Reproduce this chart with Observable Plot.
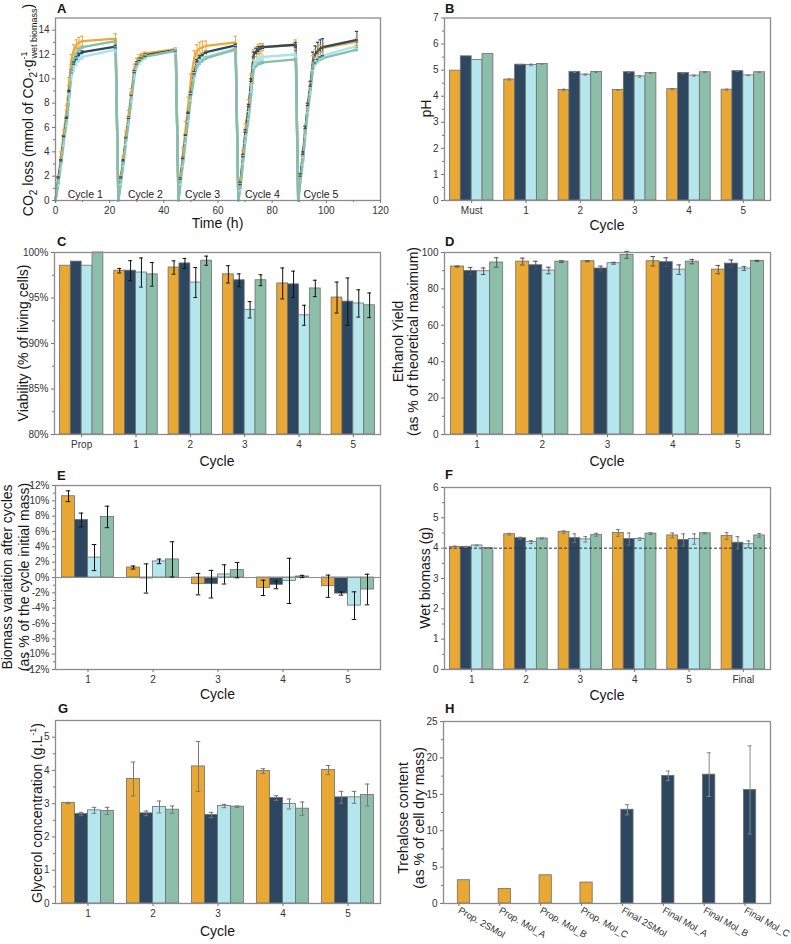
<!DOCTYPE html>
<html><head><meta charset="utf-8">
<script src="https://cdn.jsdelivr.net/npm/d3@7"></script>
<script src="https://cdn.jsdelivr.net/npm/@observablehq/plot@0.6"></script>
<style>
body{margin:0;background:#fff;}
#fig{position:relative;width:791px;height:944px;overflow:hidden;background:#fff;}
#fig svg{position:absolute;overflow:visible;}
</style></head><body><div id="fig"></div>
<script>
const FONT = '"Liberation Sans", Arial, Helvetica, sans-serif';
const seriesNames = ["2SMol", "Mol_A", "Mol_B", "Mol_C"];
const barColors = ["#E9A733", "#2D4760", "#B4E6EE", "#8DBEAA"];
const lineColors = ["#EBA93A", "#2E4A63", "#A9E2EA", "#86BFA9"];

// ---- Panel A : CO2 loss kinetics ----
const co2Time = [
  0,1.1,2.1,3.1,4.2,5.1,5.9,6.8,7.8,8.7,9.9,22.2,
  23.2,24.2,25.1,26.1,27.1,28.1,29.2,30.1,31.1,32,33.2,44.4,
  45.4,46.2,47.1,48.1,49.1,50,51.3,52.3,53.3,54.3,55.6,66.5,
  67.5,68.3,69.3,70.2,71.4,72.3,73.2,74.2,75,75.8,76.6,88.7,
  89.6,90.5,91.4,92.3,93.2,94.2,95.1,96,96.9,97.8,98.7,111.3];
const co2S2SMol = [
  0,1.9,3.8,5.6,7.6,9.8,11.6,12.4,12.8,13.0,13.1,13.3,
  0,2.0,3.6,5.5,7.2,9.0,11.0,11.5,11.8,12.0,12.1,12.45,
  0,2.0,3.9,6.0,8.0,9.9,11.8,12.3,12.5,12.6,12.7,13.0,
  0,1.6,3.9,6.0,8.0,10.0,12.0,12.2,12.4,12.5,12.6,12.8,
  0,2.0,3.5,5.9,7.8,9.4,11.6,12.1,12.3,12.45,12.55,13.05];
const co2SMolA = [
  0,1.9,3.3,5.3,6.8,9.0,10.6,11.3,11.7,12.0,12.2,12.65,
  0,1.9,3.3,5.2,6.8,8.7,10.6,11.3,11.6,11.8,11.95,12.35,
  0,1.8,3.5,5.4,7.2,8.8,10.5,11.5,11.8,12.0,12.2,12.75,
  0,1.4,3.7,5.7,7.8,9.9,12.0,12.3,12.45,12.55,12.6,12.8,
  0,2.1,3.9,6.0,7.9,9.6,11.5,12.0,12.3,12.5,12.6,13.2];
const co2SMolB = [
  0,1.4,2.9,4.8,6.4,8.4,10.2,10.9,11.4,11.6,11.8,12.4,
  0,1.5,3.0,4.9,6.5,8.4,10.3,11.0,11.4,11.6,11.8,12.3,
  0,1.5,3.0,5.0,6.8,8.5,10.2,11.1,11.4,11.6,11.8,12.5,
  0,1.0,3.2,5.0,7.0,9.2,11.2,11.5,11.6,11.7,11.8,12.0,
  0,1.8,3.2,5.5,7.5,9.0,11.0,11.4,11.6,11.8,11.9,12.7];
const co2SMolC = [
  0,1.5,3.1,5.0,6.6,8.7,10.6,11.6,12.1,12.4,12.6,13.1,
  0,1.6,3.1,5.0,6.6,8.5,10.5,11.2,11.5,11.7,11.85,12.3,
  0,1.6,3.1,5.0,6.8,8.5,10.3,11.0,11.3,11.5,11.7,12.4,
  0,1.1,3.3,5.1,6.9,8.8,10.8,11.1,11.25,11.3,11.35,11.6,
  0,1.7,3.3,5.6,7.4,9.2,10.9,11.3,11.5,11.6,11.7,12.4];
const co2E2SMol = [
  0,0.1,0.2,0.2,0.2,0.3,0.4,0.4,0.4,0.4,0.4,0.4,
  0,0.1,0.1,0.2,0.2,0.2,0.2,0.2,0.2,0.1,0.1,0.1,
  0,0.2,0.4,0.5,0.5,0.5,0.5,0.5,0.5,0.5,0.4,0.5,
  0,0.2,0.2,0.3,0.3,0.4,0.4,0.4,0.4,0.4,0.3,0.4,
  0,0.1,0.2,0.2,0.2,0.3,0.3,0.3,0.3,0.3,0.3,0.3];
const co2EMolA = [
  0,0.05,0.05,0.05,0.05,0.05,0.1,0.1,0.1,0.1,0.1,0.1,
  0,0.05,0.05,0.05,0.05,0.05,0.1,0.1,0.1,0.1,0.1,0.1,
  0,0.05,0.05,0.05,0.05,0.1,0.1,0.1,0.1,0.1,0.1,0.1,
  0,0.1,0.1,0.1,0.1,0.1,0.2,0.2,0.2,0.1,0.1,0.2,
  0,0.1,0.1,0.1,0.1,0.2,0.7,0.7,0.7,0.7,0.7,0.7];
const co2EMolB = [
  0,0.2,0.3,0.3,0.3,0.3,0.3,0.3,0.3,0.2,0.2,0.2,
  0,0.2,0.2,0.3,0.3,0.3,0.3,0.2,0.2,0.2,0.2,0.2,
  0,0.2,0.2,0.3,0.3,0.3,0.3,0.2,0.2,0.2,0.2,0.2,
  0,0.2,0.2,0.3,0.3,0.3,0.3,0.3,0.2,0.2,0.2,0.2,
  0,0.2,0.3,0.3,0.3,0.3,0.3,0.3,0.3,0.2,0.2,0.2];
const co2EMolC = [
  0,0.1,0.1,0.1,0.1,0.1,0.1,0.1,0.1,0.1,0.1,0.1,
  0,0.1,0.1,0.1,0.1,0.1,0.1,0.1,0.1,0.1,0.1,0.1,
  0,0.1,0.1,0.1,0.1,0.1,0.1,0.1,0.1,0.1,0.1,0.1,
  0,0.1,0.1,0.1,0.1,0.1,0.1,0.1,0.1,0.1,0.1,0.1,
  0,0.1,0.1,0.1,0.1,0.1,0.1,0.1,0.1,0.1,0.1,0.1];
const cycleLabelText = ["Cycle 1", "Cycle 2", "Cycle 3", "Cycle 4", "Cycle 5"];
const cycleLabelTime = [11, 33.2, 54.3, 76.4, 98];
const co2XTicks = [0, 20, 40, 60, 80, 100, 120];
const co2XMinor = [10, 30, 50, 70, 90, 110];
const co2YTicks = [0, 2, 4, 6, 8, 10, 12, 14];
const co2YMinor = [1, 3, 5, 7, 9, 11, 13];

// ---- Panel B : pH ----
const phCycles = ["Must", "1", "2", "3", "4", "5"];
const ph2SMol = [4.98, 4.64, 4.24, 4.24, 4.27, 4.25];
const phMolA  = [5.53, 5.21, 4.93, 4.92, 4.89, 4.96];
const phMolB  = [5.39, 5.20, 4.83, 4.76, 4.79, 4.80];
const phMolC  = [5.62, 5.24, 4.93, 4.89, 4.92, 4.92];
const phErr2SMol = [0, 0.02, 0.03, 0.01, 0.02, 0.02];
const phErrMolA  = [0, 0.01, 0.02, 0.02, 0.02, 0.01];
const phErrMolB  = [0, 0.03, 0.02, 0.03, 0.02, 0.01];
const phErrMolC  = [0, 0.01, 0.02, 0.02, 0.02, 0.01];
const phTicks = [0, 1, 2, 3, 4, 5, 6, 7];
const phMinor = [0.5, 1.5, 2.5, 3.5, 4.5, 5.5, 6.5];

// ---- Panel C : viability ----
const viaCycles = ["Prop", "1", "2", "3", "4", "5"];
const via2SMol = [98.55, 98.0, 98.35, 97.6, 96.6, 95.05];
const viaMolA  = [99.0, 98.0, 98.8, 96.95, 96.5, 94.6];
const viaMolB  = [98.55, 97.8, 96.7, 93.7, 93.1, 94.4];
const viaMolC  = [100, 97.6, 99.1, 96.95, 96.05, 94.2];
const viaErr2SMol = [0, 0.25, 0.73, 0.95, 1.7, 1.7];
const viaErrMolA  = [0, 1.1, 0.55, 0.7, 1.45, 2.6];
const viaErrMolB  = [0, 1.6, 1.65, 0.9, 1.1, 1.5];
const viaErrMolC  = [0, 1.3, 0.5, 0.6, 0.9, 1.35];
const viaTicks = [80, 85, 90, 95, 100];
const viaMinor = [82.5, 87.5, 92.5, 97.5];

// ---- Panel D : ethanol yield ----
const ethCycles = ["1", "2", "3", "4", "5"];
const eth2SMol = [92.3, 95.0, 95.2, 95.2, 90.6];
const ethMolA  = [89.9, 93.0, 91.2, 94.7, 93.9];
const ethMolB  = [89.7, 90.1, 94.1, 90.6, 91.2];
const ethMolC  = [94.5, 95.0, 98.7, 95.0, 95.4];
const ethErr2SMol = [0.3, 1.9, 0.3, 2.6, 2.3];
const ethErrMolA  = [1.9, 2.2, 1.3, 2.4, 2.0];
const ethErrMolB  = [1.8, 1.8, 0.5, 2.6, 1.0];
const ethErrMolC  = [2.6, 0.5, 1.9, 1.2, 0.3];
const ethTicks = [0, 20, 40, 60, 80, 100];
const ethMinor = [10, 30, 50, 70, 90];

// ---- Panel E : biomass variation ----
const bvCycles = ["1", "2", "3", "4", "5"];
const bv2SMol = [10.6, 1.3, -0.87, -1.35, -1.14];
const bvMolA  = [7.5, -0.13, -0.87, -0.96, -2.1];
const bvMolB  = [2.6, 2.1, 0.4, -0.44, -3.67];
const bvMolC  = [7.9, 2.36, 0.96, 0.13, -1.57];
const bvErr2SMol = [0.7, 0.2, 1.4, 1.0, 1.45];
const bvErrMolA  = [0.9, 1.9, 1.8, 0.5, 0.2];
const bvErrMolB  = [1.7, 0.3, 1.25, 2.95, 1.8];
const bvErrMolC  = [1.4, 2.3, 1.0, 0.15, 2.0];
const bvTicks = [-12, -10, -8, -6, -4, -2, 0, 2, 4, 6, 8, 10, 12];
const bvMinor = [-11, -9, -7, -5, -3, -1, 1, 3, 5, 7, 9, 11];

// ---- Panel F : wet biomass ----
const wetCycles = ["1", "2", "3", "4", "5", "Final"];
const wet2SMol = [4.04, 4.46, 4.53, 4.50, 4.42, 4.40];
const wetMolA  = [4.04, 4.33, 4.33, 4.30, 4.27, 4.18];
const wetMolB  = [4.09, 4.20, 4.29, 4.30, 4.30, 4.13];
const wetMolC  = [4.00, 4.32, 4.44, 4.48, 4.49, 4.42];
const wetErr2SMol = [0.03, 0.03, 0.04, 0.11, 0.08, 0.11];
const wetErrMolA  = [0.02, 0.03, 0.14, 0.2, 0.2, 0.2];
const wetErrMolB  = [0.01, 0.05, 0.09, 0.04, 0.17, 0.11];
const wetErrMolC  = [0.01, 0.02, 0.05, 0.03, 0.02, 0.06];
const wetInitial = [4];
const wetTicks = [0, 1, 2, 3, 4, 5, 6];
const wetMinor = [0.5, 1.5, 2.5, 3.5, 4.5, 5.5];

// ---- Panel G : glycerol ----
const glyCycles = ["1", "2", "3", "4", "5"];
const gly2SMol = [3.02, 3.74, 4.12, 3.98, 4.01];
const glyMolA  = [2.69, 2.71, 2.66, 3.17, 3.19];
const glyMolB  = [2.80, 2.90, 2.93, 2.99, 3.19];
const glyMolC  = [2.78, 2.82, 2.91, 2.85, 3.26];
const glyErr2SMol = [0.02, 0.51, 0.75, 0.07, 0.14];
const glyErrMolA  = [0.05, 0.07, 0.08, 0.07, 0.18];
const glyErrMolB  = [0.09, 0.18, 0.05, 0.15, 0.18];
const glyErrMolC  = [0.11, 0.11, 0.02, 0.2, 0.33];
const glyTicks = [0, 1, 2, 3, 4, 5];
const glyMinor = [0.5, 1.5, 2.5, 3.5, 4.5];

// ---- Panel H : trehalose ----
const treCats = ["Prop. 2SMol", "Prop. Mol_A", "Prop. Mol_B", "Prop. Mol_C", "Final 2SMol", "Final Mol_A", "Final Mol_B", "Final Mol_C"];
const treStage = ["Prop", "Prop", "Prop", "Prop", "Final", "Final", "Final", "Final"];
const treValues = [3.2, 2.0, 3.88, 2.88, 12.88, 17.53, 17.7, 15.6];
const treErr = [0, 0, 0, 0, 0.7, 0.66, 3.0, 6.05];
const treTicks = [0, 5, 10, 15, 20, 25];
const treMinor = [2.5, 7.5, 12.5, 17.5, 22.5];

// ================= drawing =================
const fig = document.getElementById("fig");
const baseStyle = {fontFamily: FONT, fontSize: "10px", color: "#333", background: "transparent", overflow: "visible"};
const FRAME = "#8c8c8c";

function place(svg, left, top) {
  svg.style.left = left + "px";
  svg.style.top = top + "px";
  svg.style.overflow = "visible";
  fig.appendChild(svg);
  return svg;
}
function addText(svg, segs, x, y, o = {}) {
  const t = d3.select(svg).append("text")
    .attr("x", x).attr("y", y)
    .attr("font-family", FONT)
    .attr("font-size", o.size || 14)
    .attr("font-weight", o.bold ? "bold" : null)
    .attr("text-anchor", o.anchor || "middle")
    .attr("fill", "#161616");
  if (o.rotate) t.attr("transform", `rotate(-90 ${x} ${y})`);
  if (typeof segs === "string") { t.text(segs); return t; }
  for (const s of segs) {
    const ts = t.append("tspan").text(s.t);
    if (s.size) ts.attr("font-size", s.size);
    if (s.dy) ts.attr("dy", s.dy);
    if (s.dx) ts.attr("dx", s.dx);
  }
  return t;
}
function axes(xt, xf, xminor, yt, yf, yminor, xo = {}) {
  const m = [
    Plot.frame({stroke: FRAME, strokeWidth: 1.3}),
    Plot.axisX({ticks: xt, tickFormat: xf, tickSize: 3, tickPadding: 3, label: null, stroke: "#777", fill: "#333", fontSize: xo.fontSize || 10, tickRotate: xo.rot || 0, dx: xo.dx || 0}),
    Plot.axisY({ticks: yt, tickFormat: yf, tickSize: 3, tickPadding: 3, label: null, stroke: "#777", fill: "#333", fontSize: 10})
  ];
  if (xminor) m.push(Plot.axisX({ticks: xminor, tickFormat: () => "", tickSize: 2, label: null, stroke: "#777"}));
  if (yminor) m.push(Plot.axisY({ticks: yminor, tickFormat: () => "", tickSize: 2, label: null, stroke: "#777"}));
  return m;
}

function barPanel(o) {
  const n = o.cats.length;
  const nb = o.means.length;
  const bw = o.barWidth;
  const rows = [];
  o.means.forEach((row, s) => row.forEach((v, g) => rows.push({
    g, s, v, e: o.errs[s][g], key: o.fillKey ? o.fillKey[g] : seriesNames[s]
  })));
  const x1 = d => d.g - nb * bw / 2 + d.s * bw;
  const xc = d => x1(d) + bw / 2;
  const er = rows.filter(d => d.e > 0);
  const cap = o.cap;
  const svg = Plot.plot({
    width: o.width, height: o.height,
    marginLeft: o.m[0], marginRight: o.m[1], marginTop: o.m[2], marginBottom: o.m[3],
    x: {domain: [-0.5, n - 0.5]},
    y: {domain: o.yDomain},
    color: {domain: o.colorDomain || seriesNames, range: o.colorRange || barColors},
    style: baseStyle,
    marks: [
      Plot.rect(rows, {x1, x2: d => x1(d) + bw, y1: () => o.base, y2: "v", fill: "key", stroke: "#6f6f6f", strokeWidth: 0.8}),
      ...(o.after || []),
      Plot.ruleX(er, {x: xc, y1: d => d.v - d.e, y2: d => d.v + d.e, stroke: o.errColor, strokeWidth: 1}),
      Plot.ruleY(er, {y: d => d.v + d.e, x1: d => xc(d) - cap, x2: d => xc(d) + cap, stroke: o.errColor, strokeWidth: 1}),
      Plot.ruleY(er, {y: d => d.v - d.e, x1: d => xc(d) - cap, x2: d => xc(d) + cap, stroke: o.errColor, strokeWidth: 1}),
      ...axes(d3.range(n), i => o.cats[i], null, o.yTicks, o.yFormat, o.yMinor, o.xAxis || {})
    ]
  });
  return place(svg, o.left, o.top);
}

// ---------- A ----------
{
  const vals = [co2S2SMol, co2SMolA, co2SMolB, co2SMolC];
  const errs = [co2E2SMol, co2EMolA, co2EMolB, co2EMolC];
  const rows = [];
  seriesNames.forEach((s, k) => co2Time.forEach((t, i) => rows.push({t, s, v: vals[k][i], e: errs[k][i]})));
  const er = rows.filter(d => d.e > 0);
  const cap = 0.6;
  const svg = Plot.plot({
    width: 395, height: 240, marginLeft: 55, marginRight: 15, marginTop: 17.5, marginBottom: 40,
    x: {domain: [0, 120]}, y: {domain: [0, 15]},
    color: {domain: seriesNames, range: lineColors},
    style: baseStyle,
    marks: [
      Plot.line(rows, {x: "t", y: "v", z: "s", stroke: "s", strokeWidth: 2.3}),
      Plot.ruleX(er, {x: "t", y1: d => d.v - d.e, y2: d => d.v + d.e, stroke: "s", strokeWidth: 1}),
      Plot.ruleY(er, {y: d => d.v + d.e, x1: d => d.t - cap, x2: d => d.t + cap, stroke: "s", strokeWidth: 1.2}),
      Plot.ruleY(er, {y: d => d.v - d.e, x1: d => d.t - cap, x2: d => d.t + cap, stroke: "s", strokeWidth: 1.2}),
      Plot.text(cycleLabelText, {x: (d, i) => cycleLabelTime[i], frameAnchor: "bottom", lineAnchor: "bottom", dy: -3, fontSize: 10.5, fill: "#222"}),
      ...axes(co2XTicks, d => d, co2XMinor, co2YTicks, d => d, co2YMinor)
    ]
  });
  place(svg, 0, 0);
  addText(svg, "A", 57, 13, {bold: true, anchor: "start", size: 13});
  addText(svg, "Time (h)", 217.5, 228);
  addText(svg, [
    {t: "CO"}, {t: "2", size: 10, dy: 4}, {t: " loss (mmol of CO", dy: -4}, {t: "2", size: 10, dy: 4},
    {t: "·g", dy: -4}, {t: "-1", size: 9, dy: -6}, {t: "wet biomass", size: 9, dx: -7, dy: 10}, {t: ")", dy: -4}
  ], 33, 110, {rotate: true});
}

// ---------- B ----------
{
  const svg = barPanel({
    cats: phCycles, means: [ph2SMol, phMolA, phMolB, phMolC], errs: [phErr2SMol, phErrMolA, phErrMolB, phErrMolC],
    barWidth: 0.2, cap: 0.03, errColor: "#777", base: 0,
    width: 396, height: 240, m: [49, 21, 17.5, 40], left: 395, top: 0,
    yDomain: [0, 7], yTicks: phTicks, yMinor: phMinor, yFormat: d => d
  });
  addText(svg, "B", 50, 13, {bold: true, anchor: "start", size: 13});
  addText(svg, "Cycle", 212, 230);
  addText(svg, "pH", 36, 108.5, {rotate: true});
}

// ---------- C ----------
{
  const svg = barPanel({
    cats: viaCycles, means: [via2SMol, viaMolA, viaMolB, viaMolC], errs: [viaErr2SMol, viaErrMolA, viaErrMolB, viaErrMolC],
    barWidth: 0.2, cap: 0.035, errColor: "#111", base: 80,
    width: 395, height: 235, m: [54, 15, 17, 36], left: 0, top: 235,
    yDomain: [80, 100], yTicks: viaTicks, yMinor: viaMinor, yFormat: d => d + "%"
  });
  addText(svg, "C", 57, 11, {bold: true, anchor: "start", size: 13});
  addText(svg, "Cycle", 217, 231);
  addText(svg, "Viability (% of living cells)", 28, 108, {rotate: true});
}

// ---------- D ----------
{
  const svg = barPanel({
    cats: ethCycles, means: [eth2SMol, ethMolA, ethMolB, ethMolC], errs: [ethErr2SMol, ethErrMolA, ethErrMolB, ethErrMolC],
    barWidth: 0.2, cap: 0.035, errColor: "#555", base: 0,
    width: 396, height: 235, m: [49, 21, 17, 36], left: 395, top: 235,
    yDomain: [0, 100], yTicks: ethTicks, yMinor: ethMinor, yFormat: d => d
  });
  addText(svg, "D", 50, 11, {bold: true, anchor: "start", size: 13});
  addText(svg, "Cycle", 212, 231);
  addText(svg, "Ethanol Yield", 8, 106.5, {rotate: true});
  addText(svg, "(as % of theoretical maximum)", 23, 106.5, {rotate: true});
}

// ---------- E ----------
{
  const svg = barPanel({
    cats: bvCycles, means: [bv2SMol, bvMolA, bvMolB, bvMolC], errs: [bvErr2SMol, bvErrMolA, bvErrMolB, bvErrMolC],
    barWidth: 0.2, cap: 0.035, errColor: "#111", base: 0,
    width: 395, height: 240, m: [55, 15, 20, 36], left: 0, top: 465,
    yDomain: [-12, 12], yTicks: bvTicks, yMinor: bvMinor, yFormat: d => d + "%",
    after: [Plot.ruleY([0], {stroke: "#8c8c8c", strokeWidth: 1.2})]
  });
  addText(svg, "E", 57, 15, {bold: true, anchor: "start", size: 13});
  addText(svg, "Cycle", 217.5, 234);
  addText(svg, "Biomass variation after cycles", 12, 112, {rotate: true});
  addText(svg, "(as % of the cycle initial mass)", 28.5, 112, {rotate: true});
}

// ---------- F ----------
{
  const svg = barPanel({
    cats: wetCycles, means: [wet2SMol, wetMolA, wetMolB, wetMolC], errs: [wetErr2SMol, wetErrMolA, wetErrMolB, wetErrMolC],
    barWidth: 0.2, cap: 0.035, errColor: "#777", base: 0,
    width: 396, height: 240, m: [49, 21, 22, 36], left: 395, top: 465,
    yDomain: [0, 6], yTicks: wetTicks, yMinor: wetMinor, yFormat: d => d,
    after: [Plot.ruleY(wetInitial, {stroke: "#333", strokeWidth: 1, strokeDasharray: "3,2"})]
  });
  addText(svg, "F", 50, 14, {bold: true, anchor: "start", size: 13});
  addText(svg, "Cycle", 212, 235);
  addText(svg, "Wet biomass (g)", 35, 113, {rotate: true});
}

// ---------- G ----------
{
  const svg = barPanel({
    cats: glyCycles, means: [gly2SMol, glyMolA, glyMolB, glyMolC], errs: [glyErr2SMol, glyErrMolA, glyErrMolB, glyErrMolC],
    barWidth: 0.2, cap: 0.035, errColor: "#777", base: 0,
    width: 395, height: 244, m: [55, 15, 20, 41], left: 0, top: 700,
    yDomain: [0, 5.5], yTicks: glyTicks, yMinor: glyMinor, yFormat: d => d
  });
  addText(svg, "G", 58, 13, {bold: true, anchor: "start", size: 13});
  addText(svg, "Cycle", 217.5, 236);
  addText(svg, [{t: "Glycerol concentration (g.L"}, {t: "-1", size: 9, dy: -6}, {t: ")", dy: 6}], 42, 113, {rotate: true});
}

// ---------- H ----------
{
  const svg = barPanel({
    cats: treCats, means: [treValues], errs: [treErr], fillKey: treStage,
    colorDomain: ["Prop", "Final"], colorRange: [barColors[0], barColors[1]],
    barWidth: 0.3, cap: 0.05, errColor: "#888", base: 0,
    width: 396, height: 244, m: [48, 21, 21, 41], left: 395, top: 700,
    yDomain: [0, 25], yTicks: treTicks, yMinor: treMinor, yFormat: d => d,
    xAxis: {rot: 30, fontSize: 9.5, dx: -5}
  });
  addText(svg, "H", 50, 13, {bold: true, anchor: "start", size: 13});
  addText(svg, "Trehalose content", 13, 118, {rotate: true});
  addText(svg, "(as % of cell dry mass)", 29, 118, {rotate: true});
}
</script></body></html>
